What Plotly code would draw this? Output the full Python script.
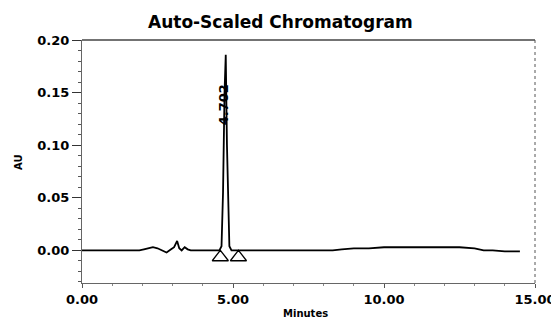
import plotly.graph_objects as go

# Chromatogram trace (minutes, AU)
times = [0.0, 1.0, 1.9, 2.05, 2.2, 2.35, 2.5, 2.65, 2.8, 2.95, 3.05, 3.15, 3.22, 3.3, 3.4, 3.5, 3.6, 3.8,
         4.3, 4.55, 4.62, 4.67, 4.72, 4.76, 4.80, 4.84, 4.88, 4.95, 5.5, 7.0, 8.3, 8.6, 9.0, 9.5, 10.0, 10.5,
         11.5, 12.5, 13.0, 13.3, 13.6, 14.0, 14.5]
absorb = [0.0, 0.0, 0.0, 0.001, 0.002, 0.003, 0.002, 0.0, -0.002, 0.001, 0.003, 0.009, 0.002, 0.0, 0.003, 0.001, 0.0, 0.0,
          0.0, 0.0, 0.004, 0.055, 0.15, 0.186, 0.10, 0.036, 0.004, 0.0, 0.0, 0.0, 0.0, 0.001, 0.002, 0.002, 0.003, 0.003,
          0.003, 0.003, 0.002, 0.0, 0.0, -0.001, -0.001]

# Peak integration markers
marker_times = [4.58, 5.18]
marker_vals = [-0.0065, -0.0065]

peak_label = "4.702"
peak_label_t = 4.67
peak_label_y = 0.138

x_ticks = [0, 5, 10, 15]
x_tick_text = ["0.00", "5.00", "10.00", "15.00"]
y_ticks = [0.0, 0.05, 0.10, 0.15, 0.20]
y_tick_text = ["0.00", "0.05", "0.10", "0.15", "0.20"]

FONT = "DejaVu Sans"
OFF = 8  # page body margin offset
W, H = 559 - OFF, 320 - OFF
L, T = 82 - OFF, 40 - OFF
R = W - (535 - OFF)
B = H - (283 - OFF)
PW = W - L - R
PH = H - T - B


def px(xp):
    return (xp - OFF - L) / PW


def py(yp):
    return 1 - (yp - OFF - T) / PH


fig = go.Figure()
fig.add_trace(go.Scatter(x=times, y=absorb, mode="lines",
                         line=dict(color="black", width=1.8), showlegend=False))
fig.add_trace(go.Scatter(x=marker_times, y=marker_vals, mode="markers",
                         marker=dict(symbol="triangle-up-open", size=14, color="black",
                                     line=dict(width=1.3, color="black")),
                         showlegend=False))

fig.add_annotation(x=peak_label_t, y=peak_label_y, text="<b>" + peak_label + "</b>",
                   textangle=-90, showarrow=False,
                   font=dict(family=FONT, size=13, color="black"))

# title, axis titles as annotations for exact placement
fig.add_annotation(xref="paper", yref="paper", x=px(280), y=py(22),
                   text="<b>Auto-Scaled Chromatogram</b>", showarrow=False, xanchor="center", yanchor="middle",
                   font=dict(family=FONT, size=17, color="black"))
fig.add_annotation(xref="paper", yref="paper", x=px(18), y=py(162),
                   text="<b>AU</b>", textangle=-90, showarrow=False, xanchor="center", yanchor="middle",
                   font=dict(family=FONT, size=10, color="black"))
fig.add_annotation(xref="paper", yref="paper", x=px(305), y=py(313),
                   text="<b>Minutes</b>", showarrow=False, xanchor="center", yanchor="middle",
                   font=dict(family=FONT, size=10, color="black"))

fig.update_layout(
    width=W, height=H,
    margin=dict(l=L, r=R, t=T, b=B, autoexpand=False),
    paper_bgcolor="white", plot_bgcolor="white",
    showlegend=False,
)

fig.update_xaxes(range=[0, 15], tickvals=x_ticks, ticktext=x_tick_text, automargin=False,
                 tickfont=dict(family=FONT, size=13, color="black", weight="bold"),
                 showgrid=False, zeroline=False, showline=True, linecolor="#666666", linewidth=1,
                 ticks="outside", ticklen=4, tickcolor="#555555",
                 minor=dict(dtick=1, ticks="outside", ticklen=2, tickcolor="#888888"))
fig.update_yaxes(range=[-0.031, 0.20], tickvals=y_ticks, ticktext=y_tick_text, automargin=False,
                 tickfont=dict(family=FONT, size=13, color="black", weight="bold"),
                 showgrid=False, zeroline=False, showline=True, linecolor="#666666", linewidth=1,
                 ticks="outside", ticklen=9, tickcolor="#333333",
                 minor=dict(dtick=0.01, ticks="outside", ticklen=3, tickcolor="#555555"))

# top and right frame lines
fig.add_shape(type="line", xref="paper", yref="paper", x0=0, x1=1, y0=1, y1=1,
              line=dict(color="#444444", width=1.3))
fig.add_shape(type="line", xref="paper", yref="paper", x0=1, x1=1, y0=0, y1=1,
              line=dict(color="#555555", width=1, dash="dot"))

fig.write_html("out.html")
